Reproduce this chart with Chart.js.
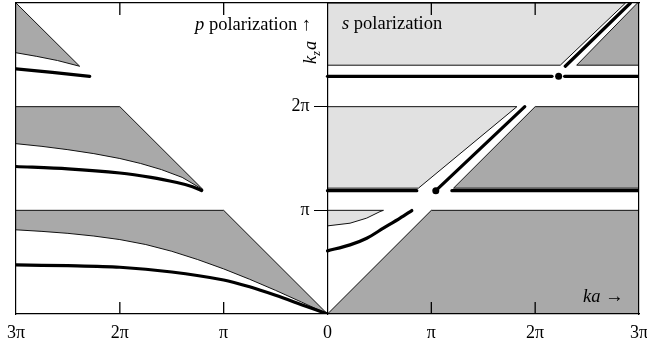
<!DOCTYPE html>
<html><head><meta charset="utf-8">
<script src="https://cdn.jsdelivr.net/npm/chart.js@4"></script>
<style>html,body{margin:0;padding:0;background:#fff}</style>
</head><body>
<canvas id="c" width="647" height="349"></canvas>
<script>
// all values in units of pi; left panel (p polarization) uses negative ka
const xTickValues = [-3, -2, -1, 0, 1, 2, 3];
const xTickLabels = ['3π', '2π', 'π', '0', 'π', '2π', '3π'];
const yTickValues = [1, 2];
const yTickLabels = ['π', '2π'];

// p polarization: allowed bands (dark gray) and guided modes
const pBandTop = [[-3, 3], [-2.387, 2.39], [-2.6, 2.445], [-2.8, 2.485], [-3, 2.52]];
const pBandMid = [[-3, 2], [-2, 2], [-1.197, 1.198], [-1.4, 1.318], [-1.6, 1.393], [-1.8, 1.452], [-2.0, 1.5],
  [-2.25, 1.547], [-2.5, 1.585], [-2.75, 1.617], [-3, 1.643]];
const pBandLow = [[-3, 1], [-1, 1], [0, 0], [-0.25, 0.115], [-0.5, 0.228], [-0.75, 0.335], [-1, 0.435],
  [-1.25, 0.525], [-1.5, 0.605], [-1.75, 0.67], [-2, 0.718], [-2.25, 0.752], [-2.5, 0.778], [-2.75, 0.797], [-3, 0.812]];
const pMode1 = [[-3, 2.365], [-2.65, 2.33], [-2.29, 2.293]];
const pMode2 = [[-3, 1.423], [-2.5, 1.4], [-2.0, 1.36], [-1.7, 1.318], [-1.45, 1.268], [-1.3, 1.228], [-1.213, 1.191]];
const pMode3 = [[-3, 0.473], [-2.5, 0.466], [-2, 0.451], [-1.5, 0.405], [-1, 0.328], [-0.75, 0.262], [-0.5, 0.18], [-0.25, 0.09], [0, 0]];

// s polarization
const sLight1 = [[0, 3], [2.87, 3], [2.242, 2.4], [0, 2.4]];
const sDark1 = [[2.4, 2.4], [2.985, 3], [3, 3], [3, 2.4], [2.4, 2.4]];
const sLight2 = [[0, 2], [1.824, 2], [0.876, 1.214], [0, 1.214]];
const sDark2 = [[1.214, 1.214], [2, 2], [3, 2], [3, 1.214], [1.214, 1.214]];
const sDark3 = [[0, 0], [1, 1], [3, 1], [3, 0]];
const sLight3 = [[0, 1], [0.539, 1], [0.506, 0.988], [0.378, 0.925], [0.217, 0.876], [0, 0.85]];
const sCurve = [[0, 0.609], [0.217, 0.667], [0.378, 0.731], [0.538, 0.828], [0.699, 0.925], [0.812, 0.998]];
const sFlat1a = [[0, 2.293], [2.162, 2.293]];
const sFlat1b = [[2.284, 2.293], [3, 2.293]];
const sFlat2a = [[0, 1.19], [0.86, 1.19]];
const sFlat2b = [[1.198, 1.19], [3, 1.19]];
const sDiag1 = [[2.29, 2.39], [2.917, 3]];
const sDiag2 = [[1.043, 1.19], [1.9, 2.0]];
const sDots = [[2.226, 2.293], [1.043, 1.19]];

const DARK = '#a9a9a9', LIGHT = '#e1e1e1';
const toPts = a => a.map(([x, y]) => ({x, y}));
const region = (pts, color) => ({data: toPts(pts), showLine: true, fill: 'shape', backgroundColor: color,
  borderColor: '#111', borderWidth: 1, pointRadius: 0, order: 3});
const mode = (pts, tension) => ({data: toPts(pts), showLine: true, fill: false, borderColor: '#000',
  borderWidth: 3.2, borderCapStyle: 'round', pointRadius: 0, tension: tension || 0, order: 2});

const datasets = [
  region(pBandTop, DARK), region(pBandMid, DARK), region(pBandLow, DARK),
  region(sLight1, LIGHT), region(sDark1, DARK), region(sLight2, LIGHT), region(sDark2, DARK),
  region(sDark3, DARK), region(sLight3, LIGHT),
  mode(pMode1, 0.3), mode(pMode2, 0.3), mode(pMode3, 0.3), mode(sCurve, 0.3),
  mode(sFlat1a), mode(sFlat1b), mode(sFlat2a), mode(sFlat2b), mode(sDiag1), mode(sDiag2),
  {data: toPts(sDots), showLine: false, pointRadius: 3.5, pointBackgroundColor: '#000', pointBorderWidth: 0, order: 1}
];

const SERIF = '"Liberation Serif", "DejaVu Serif", serif';

const textPlugin = {
  id: 'texts',
  afterDraw(chart) {
    const c = chart.ctx;
    const {chartArea: a, scales: {x}} = chart;
    c.save();
    // inward tick marks on the top and bottom frame, placed through the x scale
    c.strokeStyle = '#000';
    c.lineWidth = 1.3;
    for (const v of xTickValues) {
      if (Math.abs(v) === 3 || v === 0) continue;
      const px = x.getPixelForValue(v);
      c.beginPath();
      c.moveTo(px, a.bottom); c.lineTo(px, a.bottom - 12);
      c.stroke();
      c.beginPath();
      c.moveTo(px, a.top); c.lineTo(px, a.top + 12);
      c.stroke();
    }
    c.fillStyle = '#000';
    c.textBaseline = 'alphabetic';
    c.textAlign = 'left';
    const it = '18.5px ' + SERIF, itI = 'italic 18.5px ' + SERIF;
    function run(x0, y0, parts) {
      for (const [txt, font] of parts) { c.font = font; c.fillText(txt, x0, y0); x0 += c.measureText(txt).width; }
    }
    run(195, 30, [['p', itI], [' polarization ↑', it]]);
    run(342, 29, [['s', itI], [' polarization', it]]);
    run(583, 302, [['ka', itI], [' →', it]]);
    c.translate(316, 64);
    c.rotate(-Math.PI / 2);
    c.font = itI; c.fillText('k', 0, 0);
    let w = c.measureText('k').width;
    c.font = 'italic 12px ' + SERIF; c.fillText('z', w, 4);
    w += c.measureText('z').width;
    c.font = itI; c.fillText('a', w + 1, 0);
    c.restore();
  }
};

const noPad = s => { s.paddingLeft = 0; s.paddingRight = 0; s.paddingTop = 0; s.paddingBottom = 0; };
const BORDER = {display: true, color: '#000', width: 1.2, z: 1};

new Chart(document.getElementById('c'), {
  type: 'scatter',
  data: {datasets},
  options: {
    responsive: false, animation: false,
    layout: {autoPadding: false, padding: {left: 16, right: 8, top: 3, bottom: 0}},
    plugins: {legend: {display: false}, tooltip: {enabled: false}},
    scales: {
      x: {
        type: 'linear', position: 'bottom', min: -3, max: 3,
        afterBuildTicks: s => { s.ticks = xTickValues.map(v => ({value: v})); },
        afterFit: s => { s.height = 35; noPad(s); },
        ticks: {callback: v => xTickLabels[xTickValues.indexOf(v)] ?? '', color: '#000', padding: 8, z: 1,
          maxRotation: 0, autoSkip: false, font: {family: SERIF, size: 18}},
        grid: {display: false, drawTicks: false, tickLength: 0},
        border: BORDER
      },
      x2: {
        type: 'linear', position: 'top', min: -3, max: 3,
        afterFit: s => { s.height = 0; noPad(s); },
        ticks: {display: false},
        grid: {display: false, drawTicks: false},
        border: BORDER
      },
      y: {
        type: 'linear', position: {x: 0}, min: 0, max: 3,
        afterBuildTicks: s => { s.ticks = yTickValues.map(v => ({value: v})); },
        afterFit: noPad,
        ticks: {callback: v => (yTickLabels[yTickValues.indexOf(v)] ?? '') + '\u2003', color: '#000', z: 1,
          font: {family: SERIF, size: 18}},
        grid: {drawOnChartArea: false, tickLength: 13, color: '#000', lineWidth: 1, z: 1},
        border: BORDER
      },
      yl: {
        type: 'linear', position: 'left', min: 0, max: 3,
        afterFit: s => { s.width = 0; noPad(s); },
        ticks: {display: false}, grid: {display: false, drawTicks: false},
        border: BORDER
      },
      yr: {
        type: 'linear', position: 'right', min: 0, max: 3,
        afterFit: s => { s.width = 0; noPad(s); },
        ticks: {display: false}, grid: {display: false, drawTicks: false},
        border: BORDER
      }
    }
  },
  plugins: [textPlugin]
});
</script>
</body></html>
